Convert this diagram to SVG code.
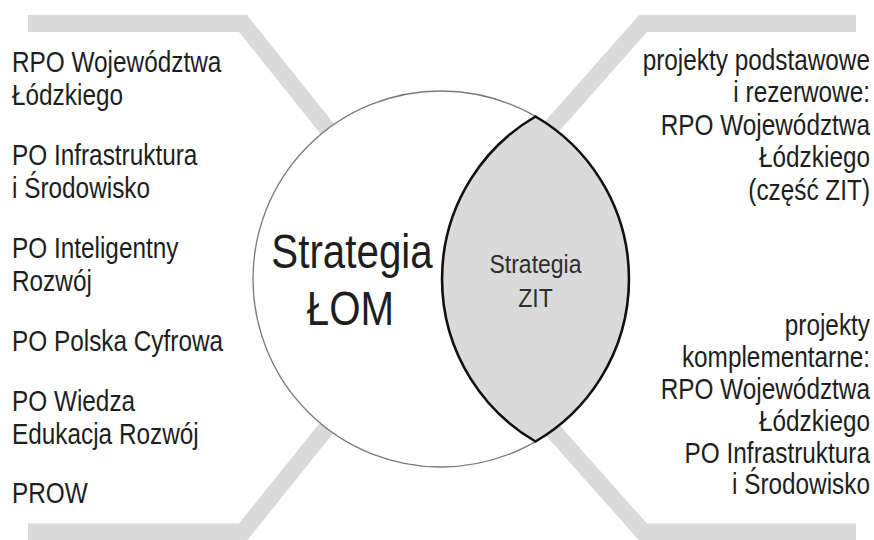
<svg xmlns="http://www.w3.org/2000/svg" width="874" height="540" viewBox="0 0 874 540">
<style>
.bar{fill:none;stroke:#d9dad9;stroke-width:17;stroke-linejoin:miter;stroke-miterlimit:10}
.t{font-family:"Liberation Sans",Arial,sans-serif;font-size:29px;fill:#1e1e1e}
.r{text-anchor:end}
.big{font-family:"Liberation Sans",Arial,sans-serif;font-size:48px;fill:#1e1e1e;text-anchor:middle}
.small{font-family:"Liberation Sans",Arial,sans-serif;font-size:25px;fill:#2e2e2e;text-anchor:middle}
</style>
<rect width="874" height="540" fill="#fff"/>
<g id="connectors">
<polyline class="bar" points="28,23.5 243,23.5 345,151"/>
<polyline class="bar" points="28,532 243,532 345,405"/>
<polyline class="bar" points="540,140 643,23.5 856,23.5"/>
<polyline class="bar" points="540,416 643,532 856,532"/>
</g>
<g id="lom">
<circle cx="441" cy="279" r="188" fill="#fff" stroke="#7a7a7a" stroke-width="1.3"/>
<g transform="translate(352 0) scale(0.84 1)">
<text class="big" x="0" y="268">Strategia</text>
</g>
<g transform="translate(350.5 0) scale(0.84 1)">
<text class="big" x="0" y="325">ŁOM</text>
</g>
</g>
<g id="zit">
<path d="M535.5 116.5 A188 188 0 0 1 535.5 441.5 A188 188 0 0 1 535.5 116.5 Z" fill="#d9dad9" stroke="#111" stroke-width="2.6"/>
<g transform="translate(535.5 0) scale(0.92 1)">
<text class="small" x="0" y="273">Strategia</text>
<text class="small" x="0" y="307">ZIT</text>
</g>
</g>
<g id="left-list" transform="translate(12 0) scale(0.84 1)">
<text class="t" x="0" y="72">RPO Województwa</text>
<text class="t" x="0" y="105">Łódzkiego</text>
<text class="t" x="0" y="165">PO Infrastruktura</text>
<text class="t" x="0" y="198">i Środowisko</text>
<text class="t" x="0" y="258">PO Inteligentny</text>
<text class="t" x="0" y="291">Rozwój</text>
<text class="t" x="0" y="351">PO Polska Cyfrowa</text>
<text class="t" x="0" y="411">PO Wiedza</text>
<text class="t" x="0" y="444">Edukacja Rozwój</text>
<text class="t" x="0" y="503">PROW</text>
</g>
<g id="right-top" transform="translate(870 0) scale(0.84 1)">
<text class="t r" x="0" y="70">projekty podstawowe</text>
<text class="t r" x="0" y="102">i rezerwowe:</text>
<text class="t r" x="0" y="135">RPO Województwa</text>
<text class="t r" x="0" y="167">Łódzkiego</text>
<text class="t r" x="0" y="200">(część ZIT)</text>
</g>
<g id="right-bottom" transform="translate(870 0) scale(0.84 1)">
<text class="t r" x="0" y="335">projekty</text>
<text class="t r" x="0" y="367">komplementarne:</text>
<text class="t r" x="0" y="399">RPO Województwa</text>
<text class="t r" x="0" y="431">Łódzkiego</text>
<text class="t r" x="0" y="463">PO Infrastruktura</text>
<text class="t r" x="0" y="494">i Środowisko</text>
</g>
</svg>
